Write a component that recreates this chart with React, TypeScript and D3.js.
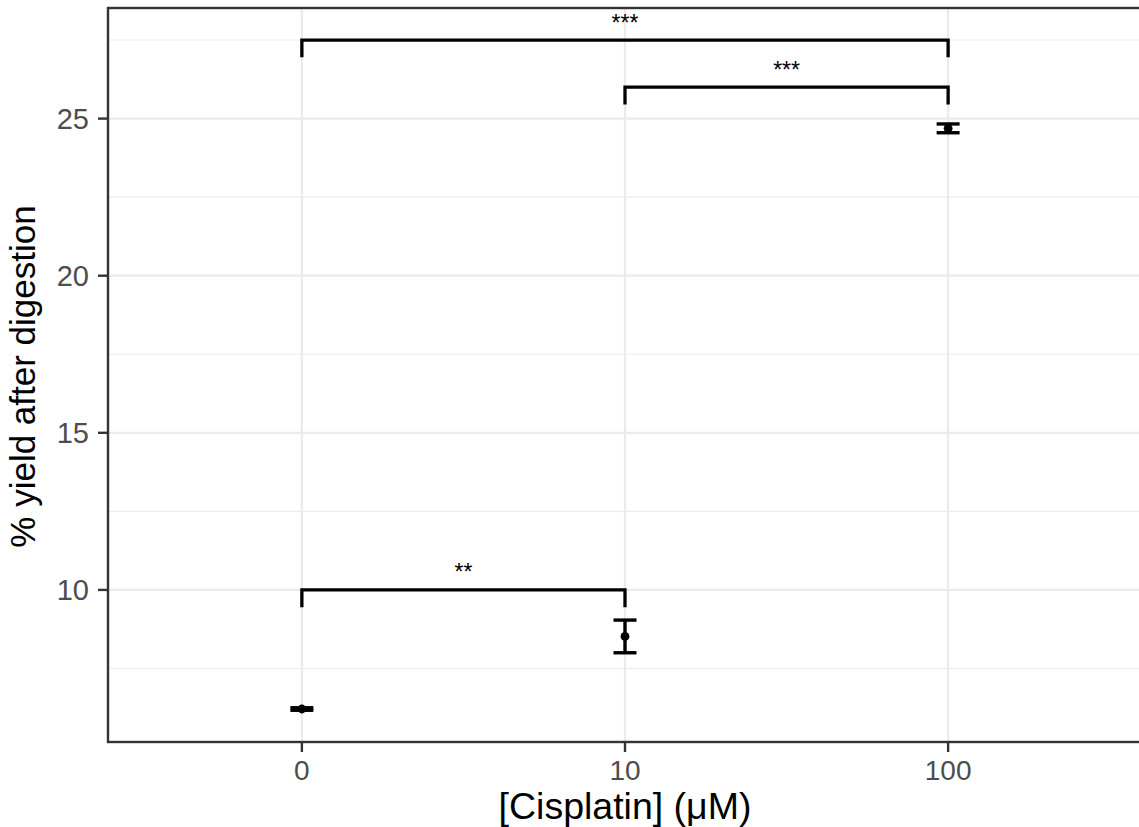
import React from "react";
import * as d3 from "d3";

// Cisplatin dose groups and measured yield (mean ± error)
const doses = ["0", "10", "100"];
const means = [6.21, 8.52, 24.69];
const errors = [0.04, 0.52, 0.14];

// Significance brackets between dose groups
const compFrom = ["0", "10", "0"];
const compTo = ["10", "100", "100"];
const compY = [10, 26, 27.5];
const compLabel = ["**", "***", "***"];
const tipLength = 0.55;

const yTicks = [10, 15, 20, 25];
const yMinor = [7.5, 12.5, 17.5, 22.5, 27.5];
const yDomain = [5.16, 28.52];

const W = 1139;
const H = 827;
const panel = { left: 108, right: 1142, top: 8, bottom: 742 };
const FONT = "'Liberation Sans', Arial, Helvetica, sans-serif";

export default function App() {
  const x = d3
    .scalePoint<string>()
    .domain(doses)
    .range([panel.left, panel.right])
    .padding(0.6);
  const y = d3.scaleLinear().domain(yDomain).range([panel.bottom, panel.top]);

  const grid = "#EBEBEB";
  const dark = "#333333";
  const tickText = "#4D4D4D";

  return (
    <svg
      width={W}
      height={H}
      style={{ position: "absolute", left: 0, top: 0, background: "#fff" }}
      fontFamily={FONT}
    >
      <defs>
        <clipPath id="panel-clip">
          <rect
            x={panel.left}
            y={panel.top}
            width={panel.right - panel.left}
            height={panel.bottom - panel.top}
          />
        </clipPath>
      </defs>
      <rect x={0} y={0} width={W} height={H} fill="#fff" />

      <g clipPath="url(#panel-clip)">
        {yMinor.map((v) => (
          <line
            key={"mi" + v}
            x1={panel.left}
            x2={panel.right}
            y1={y(v)}
            y2={y(v)}
            stroke={grid}
            strokeWidth={1.1}
          />
        ))}
        {yTicks.map((v) => (
          <line
            key={"ma" + v}
            x1={panel.left}
            x2={panel.right}
            y1={y(v)}
            y2={y(v)}
            stroke={grid}
            strokeWidth={2.2}
          />
        ))}
        {doses.map((d) => (
          <line
            key={"vx" + d}
            x1={x(d)}
            x2={x(d)}
            y1={panel.top}
            y2={panel.bottom}
            stroke={grid}
            strokeWidth={2.2}
          />
        ))}

        {/* error bars and means */}
        {doses.map((d, i) => {
          const cx = x(d)!;
          const hw = 11.5;
          const top = y(means[i] + errors[i]);
          const bot = y(means[i] - errors[i]);
          return (
            <g key={"eb" + d} stroke="#000" strokeWidth={3.4}>
              <line x1={cx} x2={cx} y1={top} y2={bot} />
              <line x1={cx - hw} x2={cx + hw} y1={top} y2={top} />
              <line x1={cx - hw} x2={cx + hw} y1={bot} y2={bot} />
              <circle cx={cx} cy={y(means[i])} r={4.4} fill="#000" stroke="none" />
            </g>
          );
        })}

        {/* significance brackets */}
        {compY.map((v, i) => {
          const x1 = x(compFrom[i])!;
          const x2 = x(compTo[i])!;
          const yy = y(v);
          const yt = y(v - tipLength);
          return (
            <g key={"br" + i}>
              <path
                d={`M${x1},${yt}L${x1},${yy}L${x2},${yy}L${x2},${yt}`}
                fill="none"
                stroke="#000"
                strokeWidth={3.3}
              />
              <text
                x={(x1 + x2) / 2}
                y={yy - 9.5}
                textAnchor="middle"
                fontSize={23}
                fill="#000"
              >
                {compLabel[i]}
              </text>
            </g>
          );
        })}
      </g>

      {/* panel border */}
      <rect
        x={panel.left}
        y={panel.top}
        width={panel.right - panel.left}
        height={panel.bottom - panel.top}
        fill="none"
        stroke={dark}
        strokeWidth={2.4}
      />

      {/* y axis */}
      {yTicks.map((v) => (
        <g key={"yt" + v}>
          <line x1={panel.left - 10} x2={panel.left} y1={y(v)} y2={y(v)} stroke={dark} strokeWidth={2.4} />
          <text
            x={panel.left - 19}
            y={y(v)}
            dy="0.36em"
            textAnchor="end"
            fontSize={29}
            fill={tickText}
          >
            {v}
          </text>
        </g>
      ))}

      {/* x axis */}
      {doses.map((d) => (
        <g key={"xt" + d}>
          <line x1={x(d)} x2={x(d)} y1={panel.bottom} y2={panel.bottom + 10} stroke={dark} strokeWidth={2.4} />
          <text
            x={x(d)}
            y={panel.bottom + 37.5}
            textAnchor="middle"
            fontSize={28}
            fill={tickText}
          >
            {d}
          </text>
        </g>
      ))}

      <text
        x={(panel.left + panel.right) / 2}
        y={819}
        textAnchor="middle"
        fontSize={37.5}
        fill="#000"
      >
        [Cisplatin] (μM)
      </text>
      <text
        transform={`translate(35, ${(panel.top + panel.bottom) / 2 + 1.5}) rotate(-90)`}
        textAnchor="middle"
        fontSize={35}
        fill="#000"
      >
        % yield after digestion
      </text>
    </svg>
  );
}
